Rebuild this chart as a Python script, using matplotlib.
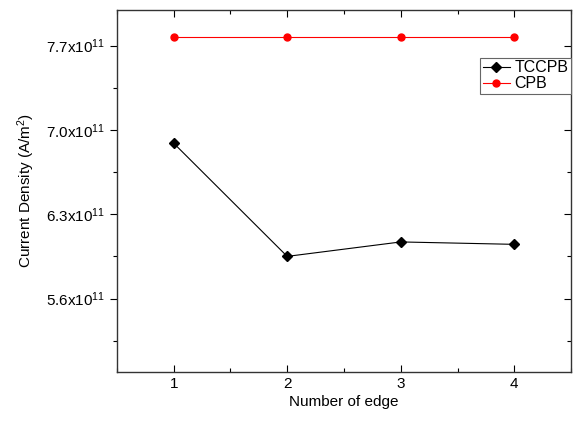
import matplotlib
matplotlib.use("Agg")
import matplotlib.pyplot as plt
from matplotlib.ticker import MultipleLocator, FuncFormatter

plt.rcParams['font.family'] = ['Liberation Sans', 'DejaVu Sans']
plt.rcParams['mathtext.default'] = 'regular'

edges = [1, 2, 3, 4]
tccpb = [6.89e11, 5.95e11, 6.07e11, 6.05e11]
cpb = [7.775e11, 7.775e11, 7.775e11, 7.775e11]

fig = plt.figure(figsize=(5.73, 4.21), dpi=100)
ax = fig.add_axes([0.204, 0.1164, 0.7926, 0.861])

ax.plot(edges, tccpb, color='black', lw=0.8, marker='D', markersize=5.5, label='TCCPB')
ax.plot(edges, cpb, color='red', lw=0.8, marker='o', markersize=5, label='CPB')

ax.set_xlim(0.5, 4.5)
ax.set_ylim(4.99e11, 8.0e11)
ax.xaxis.set_major_locator(MultipleLocator(1))
ax.xaxis.set_minor_locator(MultipleLocator(0.5))
ax.yaxis.set_major_locator(MultipleLocator(0.7e11))
ax.yaxis.set_minor_locator(MultipleLocator(0.35e11))

def yfmt(v, pos):
    return '%.1fx10$^{11}$' % (v / 1e11)
ax.yaxis.set_major_formatter(FuncFormatter(yfmt))

ax.tick_params(axis='y', which='both', left=True, right=True, direction='out', labelsize=11)
ax.tick_params(axis='x', which='both', bottom=True, top=True, direction='in', labelsize=11)
ax.tick_params(which='major', length=5, width=0.8)
ax.tick_params(which='minor', length=3, width=0.8)
# right spine ticks pointing inward
for t in ax.yaxis.get_major_ticks() + ax.yaxis.get_minor_ticks():
    t.tick2line.set_marker(matplotlib.lines.TICKLEFT)

for s in ax.spines.values():
    s.set_linewidth(1.0)
    s.set_color('#333333')

ax.set_xlabel('Number of edge', fontsize=11, labelpad=3)
ax.set_ylabel('Current Density (A/m$^{2}$)', fontsize=11, labelpad=6)

leg = ax.legend(loc='upper right', bbox_to_anchor=(1.0, 0.866), fontsize=11.5,
                frameon=True, fancybox=False, edgecolor='#666666', framealpha=1,
                handlelength=1.7, handletextpad=0.3, borderpad=0.15, labelspacing=0.05,
                borderaxespad=0.0)
leg.get_frame().set_linewidth(0.8)

fig.savefig('out.png', dpi=100)
